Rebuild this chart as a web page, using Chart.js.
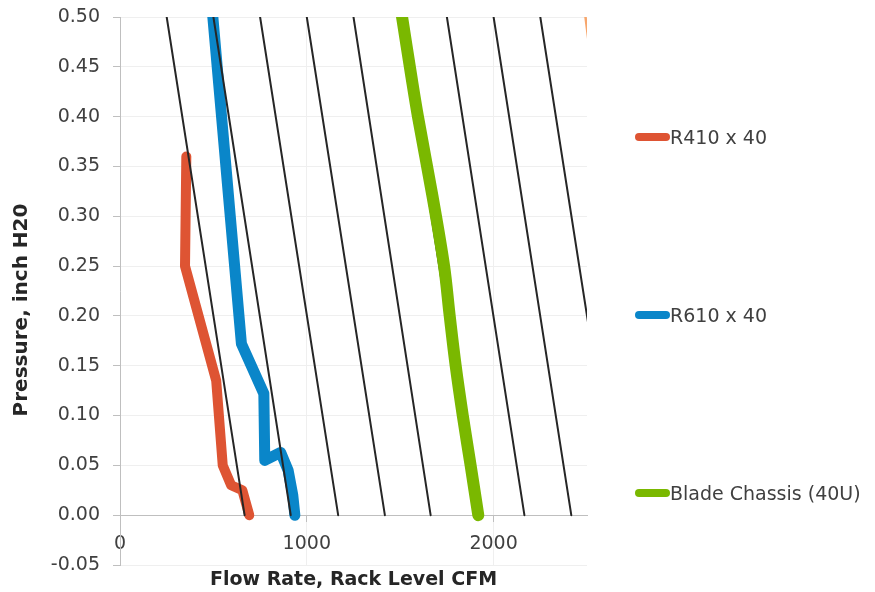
<!DOCTYPE html>
<html>
<head>
<meta charset="utf-8">
<script src="https://cdn.jsdelivr.net/npm/chart.js@4/dist/chart.umd.min.js"></script>
<style>
    html, body { margin: 0; padding: 0; background: #fff; }
    #wrap { position: relative; width: 875px; height: 592px; }
    #chart { position: absolute; left: 0; top: 0; }
    .legend-item {
        position: absolute; left: 635px; height: 24px;
        display: flex; align-items: center;
        font-family: "DejaVu Sans", sans-serif; font-size: 19px; color: #404040;
        transform: translateY(-50%); white-space: nowrap;
    }
    .legend-swatch { width: 35px; height: 8px; border-radius: 4px; }
</style>
</head>
<body>
<div id="wrap">
    <canvas id="chart" width="875" height="592"></canvas>
</div>
<script>
    // Data
    const r410Flow = [355, 348, 515, 550, 595, 655, 692];
    const r410Pressure = [0.36, 0.25, 0.135, 0.05, 0.03, 0.025, 0];

    const r610Flow = [497, 650, 770, 775, 860, 900, 925, 936];
    const r610Pressure = [0.5, 0.172, 0.122, 0.055, 0.063, 0.045, 0.02, 0];

    const bladeFlow = [1510, 1560, 1595, 1673, 1735, 1765, 1797, 1835, 1877, 1918];
    const bladePressure = [0.5, 0.44, 0.40, 0.32, 0.25, 0.2, 0.15, 0.1, 0.05, 0];

    // straight reference lines, flow at the top (0.50) and at the bottom (0.00)
    const isoTopFlow = [250, 500, 750, 1000, 1250, 1500, 1750, 2000, 2250];
    const isoBottomFlow = [667, 914, 1168, 1418, 1663, 1918, 2165, 2416, 2667];
    const isoPressure = [0.5, 0];

    const orangeFlow = [2492, 2825];
    const orangePressure = [0.5, 0];

    const xTicks = [0, 1000, 2000];

    const FONT = '"DejaVu Sans", sans-serif';

    function toPoints(xs, ys) {
        return xs.map((x, i) => ({ x: x, y: ys[i] }));
    }

    const datasets = [];

    datasets.push({
        label: 'Blade Chassis (40U)',
        data: toPoints(bladeFlow, bladePressure),
        borderColor: '#7AB800',
        borderWidth: 12,
        tension: 0.35,
        order: 0
    });

    isoTopFlow.forEach((top, i) => {
        datasets.push({
            data: toPoints([top, isoBottomFlow[i]], isoPressure),
            borderColor: '#262626',
            borderWidth: 2,
            order: 1
        });
    });

    datasets.push({
        data: toPoints(orangeFlow, orangePressure),
        borderColor: '#F7A66C',
        borderWidth: 2.5,
        order: 1
    });

    datasets.push({
        label: 'R410 x 40',
        data: toPoints(r410Flow, r410Pressure),
        borderColor: '#DE5433',
        borderWidth: 10,
        order: 2
    });

    datasets.push({
        label: 'R610 x 40',
        data: toPoints(r610Flow, r610Pressure),
        borderColor: '#0A86C9',
        borderWidth: 11,
        order: 2
    });

    datasets.forEach(ds => {
        ds.pointRadius = 0;
        ds.pointHoverRadius = 0;
        ds.fill = false;
        if (ds.tension === undefined) ds.tension = 0;
        ds.clip = 0;
        ds.borderCapStyle = 'round';
        ds.borderJoinStyle = 'round';
    });

    function noPad(scale) {
        scale.paddingTop = 0;
        scale.paddingBottom = 0;
        scale.paddingLeft = 0;
        scale.paddingRight = 0;
    }

    // Excel puts the y title a little below the middle of the plot
    const shiftYTitle = {
        id: 'shiftYTitle',
        afterLayout(chart) {
            const s = chart.scales.yt;
            s.top += 19;
            s.bottom += 19;
        }
    };

    const chart = new Chart(document.getElementById('chart'), {
        type: 'line',
        data: { datasets: datasets },
        plugins: [shiftYTitle],
        options: {
            responsive: false,
            animation: false,
            layout: { padding: { left: 0, right: 288, top: 17, bottom: 0 } },
            plugins: {
                legend: { display: false },
                tooltip: { enabled: false }
            },
            scales: {
                x: {
                    type: 'linear',
                    position: 'bottom',
                    min: 0,
                    max: 2500,
                    afterBuildTicks: scale => { scale.ticks = xTicks.map(v => ({ value: v })); },
                    afterFit: scale => { scale.height = 27; noPad(scale); },
                    ticks: { display: false },
                    grid: { color: '#EFEFEF', drawTicks: false },
                    border: { display: false },
                    title: {
                        display: true,
                        text: 'Flow Rate, Rack Level CFM',
                        color: '#262626',
                        font: { family: FONT, size: 19, weight: 'bold' },
                        padding: { top: 0, bottom: 1 }
                    }
                },
                x2: {
                    type: 'linear',
                    axis: 'x',
                    position: { y: 0 },
                    min: 0,
                    max: 2500,
                    afterBuildTicks: scale => { scale.ticks = xTicks.map(v => ({ value: v })); },
                    afterFit: scale => { scale.height = 0; noPad(scale); },
                    ticks: {
                        color: '#404040',
                        font: { family: FONT, size: 19 },
                        padding: 11,
                        callback: v => String(v)
                    },
                    grid: { drawOnChartArea: false, drawTicks: true, tickLength: 6, color: '#BFBFBF' },
                    border: { display: true, color: '#BFBFBF', width: 1 }
                },
                y: {
                    min: -0.05,
                    max: 0.5,
                    weight: 0,
                    afterFit: scale => { scale.width = 86; noPad(scale); },
                    ticks: {
                        stepSize: 0.05,
                        color: '#404040',
                        font: { family: FONT, size: 19 },
                        padding: 13,
                        callback: v => v.toFixed(2)
                    },
                    grid: { color: '#EFEFEF', tickColor: '#BFBFBF', tickLength: 7 },
                    border: { display: true, color: '#BFBFBF', width: 1 }
                },
                yt: {
                    type: 'linear',
                    position: 'left',
                    weight: 1,
                    min: 0,
                    max: 1,
                    afterFit: scale => { scale.width = 34; noPad(scale); },
                    ticks: { display: false },
                    grid: { display: false },
                    border: { display: false },
                    title: {
                        display: true,
                        text: 'Pressure, inch H20',
                        color: '#262626',
                        font: { family: FONT, size: 20, weight: 'bold' },
                        padding: { top: 10, bottom: 0 }
                    }
                }
            }
        }
    });

    // Legend spread down the right side
    const legendY = [137, 315, 493];
    const legendOrder = ['R410 x 40', 'R610 x 40', 'Blade Chassis (40U)'];
    const wrap = document.getElementById('wrap');
    legendOrder.forEach((name, i) => {
        const ds = chart.data.datasets.find(d => d.label === name);
        const item = document.createElement('div');
        item.className = 'legend-item';
        item.style.top = legendY[i] + 'px';
        const swatch = document.createElement('span');
        swatch.className = 'legend-swatch';
        swatch.style.background = ds.borderColor;
        const text = document.createElement('span');
        text.textContent = name;
        item.appendChild(swatch);
        item.appendChild(text);
        wrap.appendChild(item);
    });
</script>
</body>
</html>
